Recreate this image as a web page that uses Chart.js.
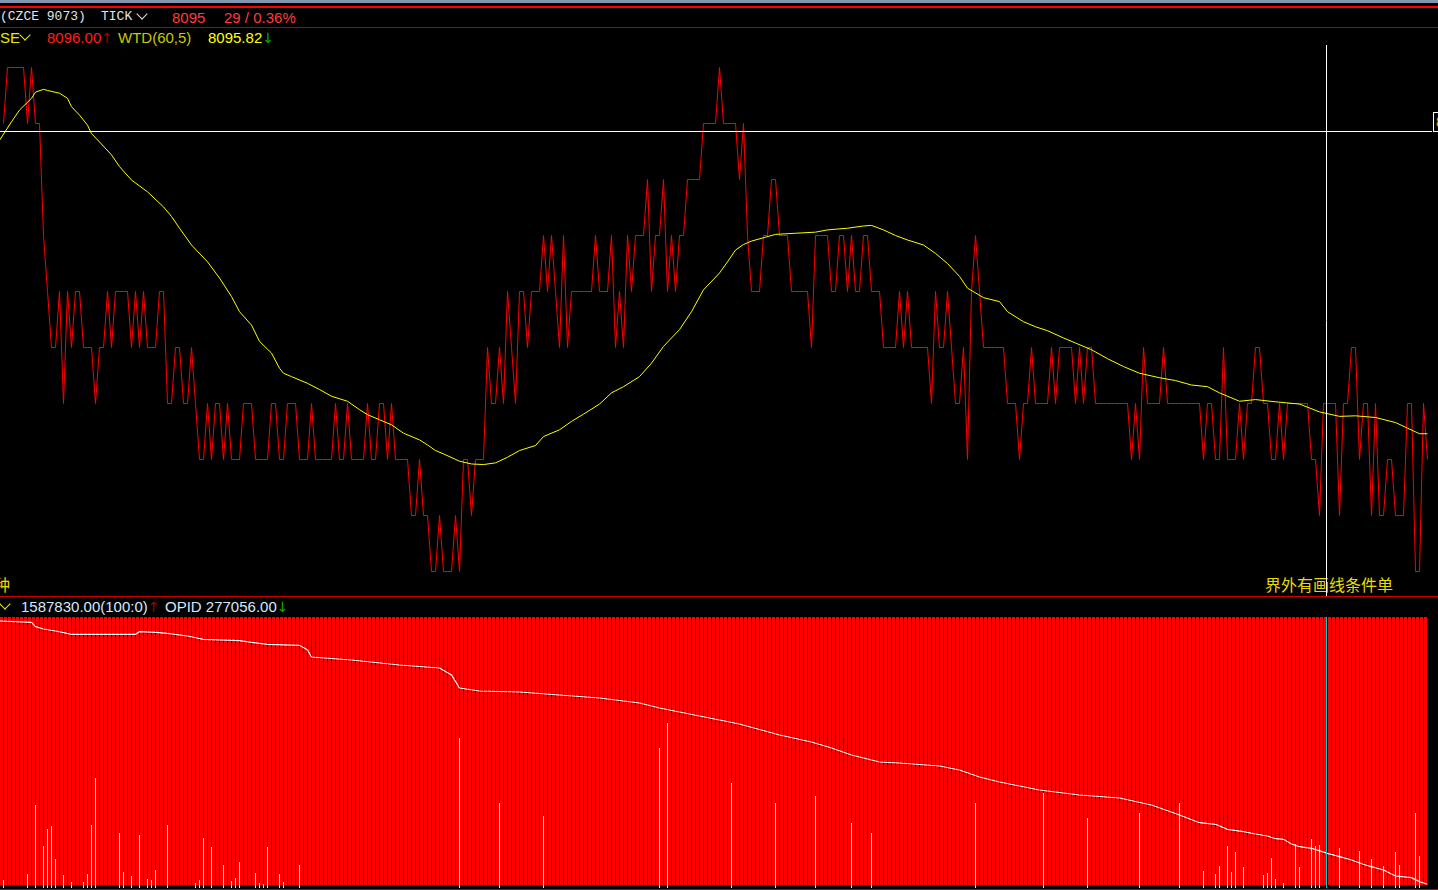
<!DOCTYPE html>
<html>
<head>
<meta charset="utf-8">
<script src="https://cdn.jsdelivr.net/npm/chart.js@4.4.1/dist/chart.umd.min.js"></script>
<style>
  html, body { margin: 0; padding: 0; background: #000; }
  body { width: 1438px; height: 890px; position: relative; overflow: hidden;
         font-family: "Liberation Sans", Arial, sans-serif; font-size: 15px; }
  .abs { position: absolute; white-space: nowrap; line-height: 18px; }
  .mono { font-family: "Liberation Mono", monospace; font-size: 13px; color: #e4e4e4; }
  .cjk { font-family: "Noto Sans CJK SC", sans-serif; font-size: 16px; color: #e6dc00; }
  .arr { font-family: "DejaVu Sans", sans-serif; font-size: 14px; }
  .chev { position: absolute; width: 7px; height: 7px; border-right: 1.5px solid; border-bottom: 1.5px solid;
          transform: rotate(45deg); }
  .rule { position: absolute; left: 0; width: 1438px; }
  canvas { position: absolute; left: 0; }
</style>
</head>
<body>
<div class="rule" style="top:0;height:3px;background:#8396b0"></div>
<div class="rule" style="top:6px;height:2px;background:#ff0000"></div>
<div class="rule" style="top:27px;height:1px;background:#b80000"></div>
<div class="rule" style="top:596px;height:1px;background:#c80000"></div>
<div class="rule" style="top:889px;height:1px;background:#c80000"></div>

<span class="abs mono" style="left:0;top:8px">(CZCE 9073)</span>
<span class="abs mono" style="left:101px;top:8px">TICK</span>
<span class="chev" style="left:138px;top:10px;color:#e0e0e0"></span>
<span class="abs" style="left:172px;top:9px;color:#ff3c3c">8095</span>
<span class="abs" style="left:224px;top:9px;color:#ff3c3c">29 / 0.36%</span>

<span class="abs" style="left:0;top:29px;color:#e8e800">SE</span>
<span class="chev" style="left:21px;top:31px;color:#e8e800"></span>
<span class="abs" style="left:47px;top:29px;color:#ff1e1e">8096.00<span class="arr" style="color:#a00000">↑</span></span>
<span class="abs" style="left:118px;top:29px;color:#c8c800">WTD(60,5)</span>
<span class="abs" style="left:208px;top:29px;color:#ffff00">8095.82<span class="arr" style="color:#00b400">↓</span></span>

<span class="abs cjk" style="left:-6px;top:575px">种</span>
<span class="abs cjk" style="left:1265px;top:575px">界外有画线条件单</span>

<span class="chev" style="left:1px;top:600px;color:#e8e800"></span>
<span class="abs" style="left:21px;top:598px;color:#d4e8ff">1587830.00(100:0)<span class="arr" style="color:#a00000">↑</span></span>
<span class="abs" style="left:165px;top:598px;color:#d4e8ff">OPID 277056.00<span class="arr" style="color:#00b400">↓</span></span>

<div class="abs" style="left:1433px;top:112px;width:10px;height:18px;border:1px solid #fff;color:#ffb000;font-size:14px;padding-left:2px">8</div>

<canvas id="priceChart" width="1438" height="568" style="top:28px"></canvas>
<canvas id="volChart" width="1438" height="271" style="top:617px"></canvas>

<script>
// last traded price per tick
const priceClose = [
  8101,8102,8102,8102,8102,8102,8101,8102,8101,8101,
  8099,8098,8097,8097,8098,8096,8098,8097,8098,8098,
  8097,8097,8097,8096,8097,8097,8098,8097,8098,8098,
  8098,8098,8097,8098,8097,8098,8097,8097,8097,8098,
  8098,8096,8096,8097,8097,8096,8096,8097,8096,8095,
  8095,8096,8095,8096,8096,8095,8096,8095,8095,8095,
  8096,8096,8096,8095,8095,8095,8095,8096,8096,8095,
  8095,8096,8096,8096,8095,8095,8095,8096,8095,8095,
  8095,8095,8095,8096,8095,8095,8096,8095,8095,8095,
  8095,8096,8095,8095,8096,8096,8095,8096,8095,8095,
  8095,8095,8094,8094,8095,8094,8094,8093,8093,8094,
  8093,8093,8093,8094,8093,8095,8095,8094,8095,8095,
  8095,8097,8096,8096,8097,8096,8098,8097,8096,8098,
  8098,8097,8098,8098,8098,8099,8098,8099,8098,8097,
  8099,8097,8098,8098,8098,8098,8098,8098,8099,8098,
  8098,8098,8099,8097,8098,8097,8099,8098,8099,8099,
  8099,8100,8098,8099,8099,8100,8098,8099,8098,8099,
  8099,8100,8100,8100,8100,8101,8101,8101,8101,8102,
  8101,8101,8101,8101,8100,8101,8099,8098,8098,8098,
  8099,8099,8100,8100,8099,8099,8099,8098,8098,8098,
  8098,8098,8097,8099,8099,8099,8099,8098,8098,8099,
  8099,8098,8099,8098,8098,8099,8099,8098,8098,8098,
  8097,8097,8097,8097,8098,8097,8098,8097,8097,8097,
  8097,8097,8096,8098,8097,8097,8098,8097,8096,8096,
  8097,8095,8098,8099,8098,8097,8097,8097,8097,8097,
  8097,8096,8096,8096,8095,8096,8096,8097,8096,8096,
  8096,8096,8097,8096,8097,8097,8097,8097,8096,8097,
  8096,8097,8097,8096,8096,8096,8096,8096,8096,8096,
  8096,8096,8095,8096,8095,8097,8096,8096,8096,8096,
  8097,8096,8096,8096,8096,8096,8096,8096,8096,8096,
  8095,8096,8096,8095,8095,8097,8095,8095,8095,8096,
  8095,8096,8096,8097,8097,8096,8096,8095,8095,8096,
  8095,8096,8096,8096,8096,8096,8096,8095,8095,8094,
  8096,8096,8096,8096,8094,8096,8096,8097,8097,8095,
  8096,8096,8094,8096,8094,8094,8095,8095,8094,8094,
  8094,8096,8096,8093,8093,8096,8095
];

// WTD(60,5) average, sampled at tick positions
const wtdIdx = [-1,2,4,7,8,10,11,14,16,17,19,21,22,24,27,29,32,36,40,42,44,47,51,54,57,59,62,64,67,69,
  70,72,76,79,82,86,89,91,94,97,100,104,106,108,110,114,117,120,123,126,129,133,135,139,142,145,149,152,155,159,
  162,165,169,172,175,179,181,183,185,187,190,193,198,203,206,211,215,217,220,223,226,230,233,236,239,241,245,249,251,255,
  258,261,265,268,272,276,280,284,289,293,297,301,304,309,313,318,324,329,334,338,343,348,351,354,356];
const wtdVal = [8100.70,8101.03,8101.24,8101.45,8101.56,8101.61,8101.59,8101.54,8101.45,8101.30,8101.15,8100.97,8100.82,8100.67,8100.44,8100.23,8099.99,8099.78,8099.51,8099.34,8099.13,8098.83,8098.53,8098.24,8097.91,8097.64,8097.40,8097.11,8096.90,8096.63,
  8096.54,8096.48,8096.36,8096.25,8096.13,8096.04,8095.89,8095.80,8095.71,8095.62,8095.47,8095.35,8095.26,8095.16,8095.10,8094.97,8094.92,8094.91,8094.94,8095.04,8095.16,8095.25,8095.41,8095.53,8095.68,8095.81,8095.99,8096.19,8096.30,8096.48,
  8096.72,8097.02,8097.32,8097.64,8098.03,8098.33,8098.53,8098.74,8098.84,8098.90,8098.96,8099.02,8099.04,8099.06,8099.10,8099.13,8099.17,8099.18,8099.10,8099.00,8098.92,8098.83,8098.68,8098.50,8098.27,8098.06,8097.89,8097.82,8097.64,8097.46,
  8097.37,8097.30,8097.17,8097.08,8096.96,8096.80,8096.66,8096.54,8096.46,8096.41,8096.33,8096.30,8096.19,8096.04,8096.07,8096.03,8095.99,8095.85,8095.77,8095.78,8095.75,8095.66,8095.56,8095.46,8095.46];

// tick volume shown as thin light bars
const volIdx = [0,6,8,10,11,12,13,15,17,20,21,22,23,29,30,32,34,36,37,38,41,48,49,50,52,55,57,58,59,63,64,65,66,69,70,74,
  114,124,135,164,166,182,193,203,212,217,243,260,271,284,294,
  300,303,304,306,307,308,310,315,316,317,318,320,323,324,327,328,329,334,339,342,345,348,349,353,354];
const volLots = [8,14,83,42,59,62,29,13,6,6,14,63,110,55,16,12,53,9,8,18,63,5,8,50,41,23,7,10,26,15,5,4,41,14,6,23,
  150,85,72,140,165,105,85,92,65,55,85,95,70,75,85,
  17,14,22,42,16,36,21,13,15,30,9,5,44,21,49,42,43,40,37,29,22,36,23,75,32];

// open interest (OPID)
const opidIdx = [-1,7,8,10,13,15,17,33,34,38,41,46,50,59,62,66,74,76,77,87,99,109,112,114,119,129,139,149,159,164,
  174,184,194,202,207,212,217,219,224,234,239,244,249,259,269,279,287,294,299,303,306,310,313,316,318,320,322,324,327,331,
  334,337,341,345,348,352,354,356];
const opidVal = [279380,279367,279323,279300,279280,279263,279247,279247,279273,279267,279257,279230,279197,279183,279167,279147,279137,279090,279020,278990,278940,278910,278840,278710,278680,278670,278640,278610,278560,278510,
  278430,278350,278240,278170,278110,278040,277990,277970,277960,277930,277890,277820,277770,277690,277640,277610,277540,277440,277363,277347,277297,277273,277250,277230,277203,277197,277150,277123,277107,277057,
  277023,276990,276933,276890,276830,276813,276773,276747];

const cursorTick = 331;
const cursorPrice = 8100.86;

// every 4px is one tick; price points sit at the right edge of each volume column
const X_MIN = -0.875, X_MAX = 358.625;
const VOL_MAX = 271, VOL_FLOOR = 3;

const crosshair = {
  id: 'crosshair',
  afterDatasetsDraw(chart, args, opts) {
    const { ctx, chartArea, scales } = chart;
    const x = Math.round(scales.x.getPixelForValue(opts.tick)) + 0.5;
    ctx.save();
    ctx.strokeStyle = opts.color;
    ctx.lineWidth = 1;
    ctx.beginPath();
    ctx.moveTo(x, chartArea.top + (opts.topGap || 0));
    ctx.lineTo(x, chartArea.bottom);
    if (opts.price != null) {
      const y = Math.round(scales.y.getPixelForValue(opts.price)) + 0.5;
      ctx.moveTo(chartArea.left, y);
      ctx.lineTo(chartArea.right - 6, y);
    }
    ctx.stroke();
    ctx.restore();
  }
};

const baseOpts = {
  responsive: false,
  animation: false,
  devicePixelRatio: 1,
  layout: { padding: 0 },
  events: [],
  plugins: { legend: { display: false }, tooltip: { enabled: false } }
};

new Chart(document.getElementById('priceChart').getContext('2d'), {
  type: 'line',
  data: {
    datasets: [
      {
        label: 'WTD(60,5)',
        data: wtdIdx.map((t, k) => ({ x: t, y: wtdVal[k] })),
        borderColor: '#ffff00',
        borderWidth: 1,
        pointRadius: 0,
        tension: 0,
        order: 0
      },
      {
        label: 'CLOSE',
        data: priceClose.map((p, i) => ({ x: i, y: p })),
        borderColor: '#ff0000',
        borderWidth: 1,
        pointRadius: 0,
        tension: 0,
        order: 1
      }
    ]
  },
  options: {
    ...baseOpts,
    scales: {
      x: { type: 'linear', min: X_MIN, max: X_MAX, display: false },
      y: { min: 8092.5625, max: 8102.7054, display: false }
    },
    plugins: {
      ...baseOpts.plugins,
      crosshair: { tick: cursorTick - 0.5, price: cursorPrice, color: '#ffffff', topGap: 17 }
    }
  },
  plugins: [crosshair]
});

new Chart(document.getElementById('volChart').getContext('2d'), {
  type: 'bar',
  data: {
    datasets: [
      {
        type: 'line',
        label: 'OPID',
        data: opidIdx.map((t, k) => ({ x: t, y: opidVal[k] })),
        yAxisID: 'yo',
        borderColor: '#ffffff',
        borderWidth: 1.2,
        pointRadius: 0,
        tension: 0,
        order: 0
      },
      {
        label: 'VOL',
        data: volIdx.map((t, k) => ({ x: t, y: volLots[k] })),
        yAxisID: 'yv',
        backgroundColor: '#dce9f2',
        barThickness: 1,
        grouped: false,
        inflateAmount: 0,
        order: 1
      },
      {
        label: 'AMT',
        data: priceClose.map((_, i) => ({ x: i - 0.5, y: [VOL_FLOOR, VOL_MAX] })),
        yAxisID: 'yv',
        backgroundColor: '#ff0000',
        barThickness: 3,
        grouped: false,
        inflateAmount: 0,
        order: 2
      }
    ]
  },
  options: {
    ...baseOpts,
    scales: {
      x: { type: 'linear', offset: false, min: X_MIN, max: X_MAX, display: false },
      yv: { min: 0, max: VOL_MAX, display: false },
      yo: { min: 276710, max: 279420, display: false }
    },
    plugins: {
      ...baseOpts.plugins,
      crosshair: { tick: cursorTick - 0.5, color: '#00d0d0' }
    }
  },
  plugins: [crosshair]
});
</script>
</body>
</html>
